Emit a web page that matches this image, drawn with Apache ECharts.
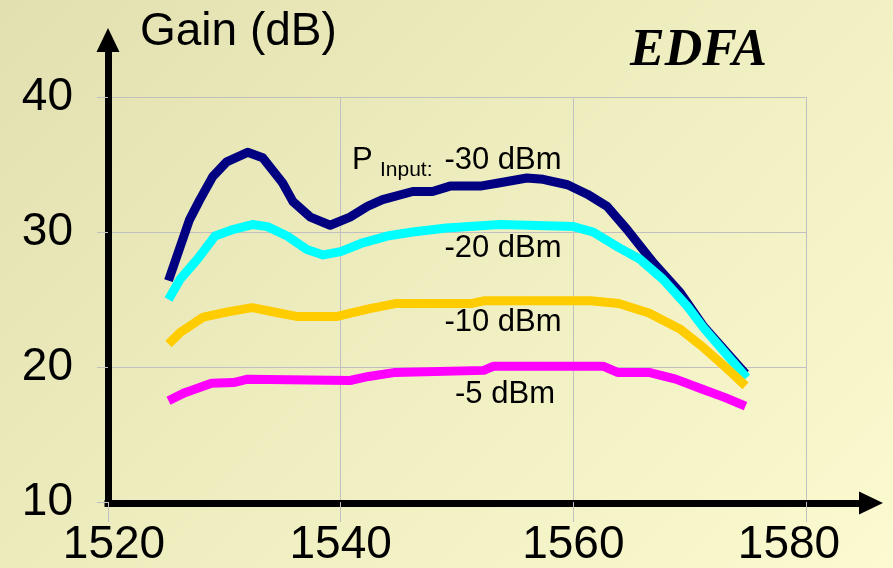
<!DOCTYPE html>
<html>
<head>
<meta charset="utf-8">
<script src="https://cdn.jsdelivr.net/npm/echarts@6/dist/echarts.min.js"></script>
<style>
html,body{margin:0;padding:0;}
#c{width:893px;height:568px;background:linear-gradient(135deg,#e2e0b0 0%,#efeec0 50%,#fbfad0 100%);}
</style>
</head>
<body>
<div id="c"></div>
<script>
// Wavelength (nm) and gain (dB) per input power
const wl30 = [1525.2,1526.2,1527.0,1527.9,1529.0,1530.2,1532.0,1533.3,1535.0,1535.9,1537.4,1539.1,1540.8,1542.3,1543.6,1546.2,1547.9,1549.4,1552.0,1553.7,1556.0,1557.4,1559.5,1561.2,1562.9,1564.6,1566.9,1569.2,1571.2,1574.8];
const g30  = [26.4,28.9,30.9,32.4,34.1,35.2,35.9,35.5,33.65,32.25,31.1,30.5,31.1,31.9,32.4,33.0,33.0,33.4,33.4,33.65,34.0,33.9,33.5,32.8,31.9,30.2,27.7,25.5,23.0,19.5];

const wl20 = [1525.2,1526.2,1527.7,1529.2,1530.8,1532.4,1533.7,1535.4,1537.1,1538.5,1540.0,1541.9,1544.0,1546.2,1549.1,1553.7,1560.0,1561.7,1563.8,1565.7,1567.7,1569.8,1571.2,1574.9];
const g20  = [25.0,26.5,28.0,29.7,30.2,30.55,30.4,29.7,28.7,28.3,28.55,29.2,29.7,30.0,30.3,30.55,30.4,30.0,28.9,28.0,26.5,24.5,22.9,19.2];

const wl10 = [1525.2,1526.2,1528.2,1530.4,1532.4,1534.7,1536.2,1539.7,1542.4,1544.7,1551.2,1552.3,1561.5,1563.9,1566.5,1569.2,1571.1,1573.0,1574.8];
const g10  = [21.7,22.55,23.7,24.1,24.4,24.0,23.75,23.75,24.3,24.7,24.7,24.9,24.9,24.7,24.0,22.8,21.5,20.05,18.6];

const wl5  = [1525.2,1526.6,1528.9,1530.8,1532.0,1540.8,1542.4,1544.7,1552.3,1553.1,1562.6,1563.8,1566.5,1568.8,1571.1,1573.0,1574.8];
const g5   = [17.5,18.1,18.8,18.85,19.1,19.0,19.3,19.6,19.75,20.05,20.05,19.6,19.6,19.1,18.35,17.75,17.1];

const seriesNames = ['-30 dBm','-20 dBm','-10 dBm','-5 dBm'];
const seriesColors = ['#000080','#00ffff','#ffcc00','#ff00ff'];
const xTicks = [1520,1540,1560,1580];
const yTicks = [10,20,30,40];

const pairs = (xs, ys) => xs.map((x,i)=>[x, ys[i]]);
const allData = [pairs(wl30,g30), pairs(wl20,g20), pairs(wl10,g10), pairs(wl5,g5)];

const FONT = '"Liberation Sans", Arial, sans-serif';
const chart = echarts.init(document.getElementById('c'), null, {renderer:'canvas'});

const gray = '#c0c0c0';
const axisArrowLine = {show:true, symbol:['none','triangle'], symbolSize:[23,24], lineStyle:{color:'#000', width:7, cap:'square'}};
const option = {
  backgroundColor: 'transparent',
  animation: false,
  grid: [
    {left:108, right:87, top:97, bottom:65},
    {left:108, right:22, top:40, bottom:65}
  ],
  xAxis: [
    {
      gridIndex:0, type:'value', min:xTicks[0], max:xTicks[xTicks.length-1], interval:20,
      axisLine:{show:false},
      axisTick:{show:true, length:20, lineStyle:{color:gray, width:1}},
      splitLine:{show:true, lineStyle:{color:gray, width:1}},
      axisLabel:{
        margin:20, color:'#000', fontSize:46, fontFamily:FONT,
        formatter: v => v===1580 ? '{r|'+v+'}' : (v===1520 ? '{l|'+v+'}' : '{n|'+v+'}'),
        rich:{
          n:{fontSize:46, fontFamily:FONT, color:'#000'},
          r:{fontSize:46, fontFamily:FONT, color:'#000', padding:[0,34,0,0]},
          l:{fontSize:46, fontFamily:FONT, color:'#000', padding:[0,0,0,12]}
        }
      }
    },
    {
      gridIndex:1, type:'value', min:0, max:1,
      axisLine:axisArrowLine,
      axisTick:{show:false}, splitLine:{show:false}, axisLabel:{show:false}
    }
  ],
  yAxis: [
    {
      gridIndex:0, type:'value', min:yTicks[0], max:yTicks[yTicks.length-1], interval:10,
      axisLine:{show:false},
      axisTick:{show:true, length:11, lineStyle:{color:gray, width:1}},
      splitLine:{show:true, lineStyle:{color:gray, width:1}},
      axisLabel:{margin:35, color:'#000', fontSize:46, fontFamily:FONT}
    },
    {
      gridIndex:1, type:'value', min:0, max:1,
      axisLine:axisArrowLine,
      axisTick:{show:false}, splitLine:{show:false}, axisLabel:{show:false}
    }
  ],
  series: allData.map((d,i)=>({
    name: seriesNames[i], type:'line', xAxisIndex:0, yAxisIndex:0,
    data: d, showSymbol:false, smooth:false,
    lineStyle:{color:seriesColors[i], width:9, cap:'butt', join:'round'},
    z: 3+i
  })),
  graphic: [
    {type:'text', left:140, top:9, style:{text:'Gain (dB)', font:'46px '+FONT, fill:'#000'}},
    {type:'text', left:630, top:26, style:{text:'EDFA', font:'italic bold 52px "Liberation Serif", "Times New Roman", serif', fill:'#000'}},
    {type:'text', x:352, y:160, style:{text:'P', font:'31px '+FONT, fill:'#000', textVerticalAlign:'middle'}},
    {type:'text', x:380, y:170, style:{text:'Input:', font:'21px '+FONT, fill:'#000', textVerticalAlign:'middle'}},
    {type:'text', x:503, y:160, style:{text:seriesNames[0], font:'31px '+FONT, fill:'#000', textAlign:'center', textVerticalAlign:'middle'}},
    {type:'text', x:503, y:248, style:{text:seriesNames[1], font:'31px '+FONT, fill:'#000', textAlign:'center', textVerticalAlign:'middle'}},
    {type:'text', x:503, y:322, style:{text:seriesNames[2], font:'31px '+FONT, fill:'#000', textAlign:'center', textVerticalAlign:'middle'}},
    {type:'text', x:505, y:394, style:{text:seriesNames[3], font:'31px '+FONT, fill:'#000', textAlign:'center', textVerticalAlign:'middle'}}
  ]
};
chart.setOption(option);
</script>
</body>
</html>
